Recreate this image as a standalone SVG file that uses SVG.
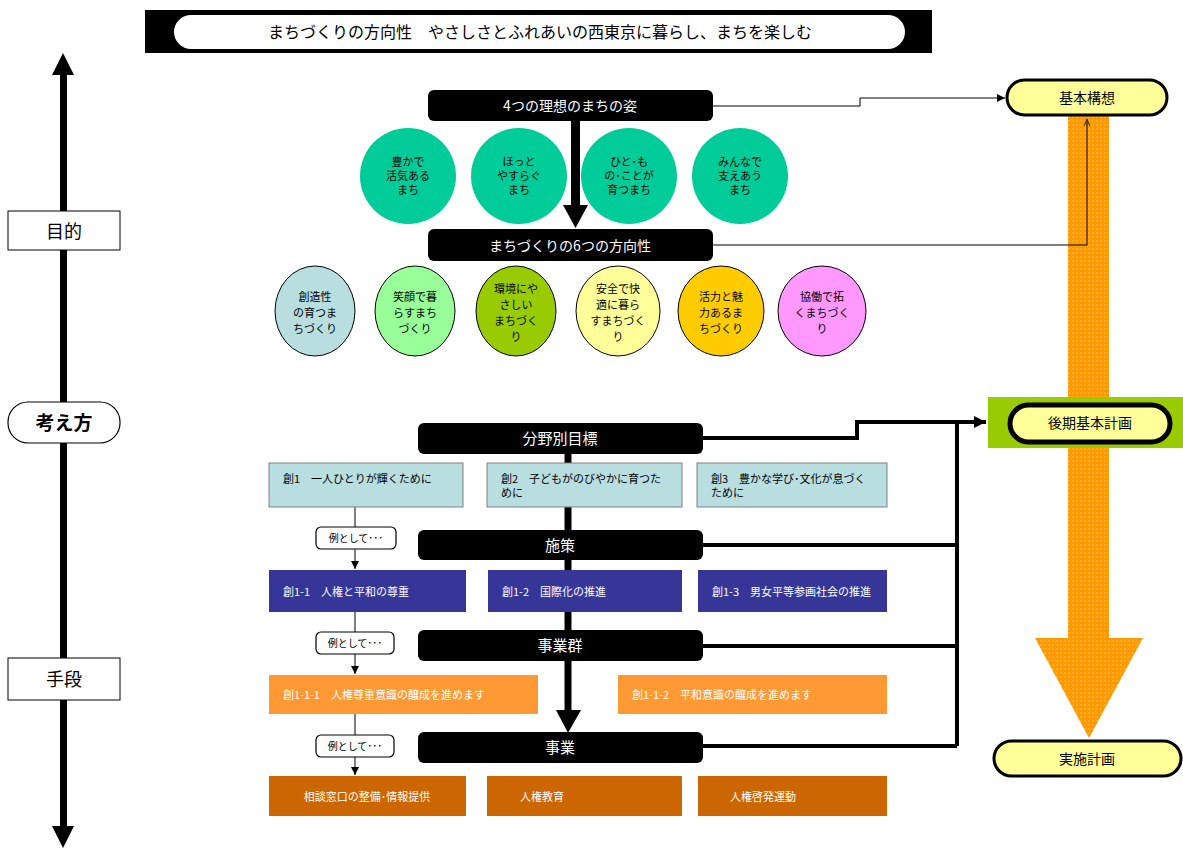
<svg xmlns="http://www.w3.org/2000/svg" width="1183" height="848" viewBox="0 0 1183 848">
<style>
text{font-family:"Noto Sans CJK JP","Noto Sans",sans-serif;}
.w{fill:#fff}
.hd{font-size:14px;fill:#fff;text-anchor:middle}
.hd2{font-size:15px;fill:#fff;text-anchor:middle}
.blk{fill:#000}
.ct{font-size:11px;fill:#000;text-anchor:middle}
.bt{font-size:11px;fill:#000}
.wt{font-size:11px;fill:#fff}
.pill{fill:#FFFF99;stroke:#000;stroke-width:3}
.lb{fill:#B8DEE0;stroke:#808080;stroke-width:1}
.db{fill:#363699}
.or{fill:#FF9933}
.dor{fill:#CC6600}
.ex{fill:#fff;stroke:#000;stroke-width:1.2}
.thin{fill:none;stroke:#000;stroke-width:1}
.thick{fill:none;stroke:#000;stroke-width:4}
</style>
<defs>
<marker id="ah" viewBox="0 0 10 10" refX="10" refY="5" markerWidth="8" markerHeight="8" markerUnits="userSpaceOnUse" orient="auto"><path d="M0,0 L10,5 L0,10 z" fill="#000"/></marker>
<marker id="ahT" viewBox="0 0 10 10" refX="10" refY="5" markerWidth="12" markerHeight="12" markerUnits="userSpaceOnUse" orient="auto"><path d="M0,0 L10,5 L0,10 z" fill="#000"/></marker>
<marker id="ahO" viewBox="0 0 10 10" refX="10" refY="5" markerWidth="7" markerHeight="7" markerUnits="userSpaceOnUse" orient="auto"><path d="M0,1 L10,5 L0,9" fill="none" stroke="#333" stroke-width="1.5"/></marker>
<pattern id="orp" width="4" height="4" patternUnits="userSpaceOnUse"><rect width="4" height="4" fill="#FF9900"/><rect width="2" height="2" fill="#FFAA2A"/></pattern>
</defs>

<!-- banner -->
<g id="banner">
<rect x="145" y="10" width="787" height="43" fill="#000"/>
<rect x="174" y="15" width="731" height="34" rx="17" fill="#fff"/>
<text x="540" y="38" font-size="16" text-anchor="middle" class="blk">まちづくりの方向性　やさしさとふれあいの西東京に暮らし、まちを楽しむ</text>
</g>

<!-- left axis -->
<g id="axis">
<rect x="60" y="72" width="7" height="756" fill="#000"/>
<polygon points="52,75 74,75 63,53" fill="#000"/>
<polygon points="52,826 74,826 63,848" fill="#000"/>
</g>
<g id="mokuteki">
<rect x="8" y="211" width="112" height="39" fill="#fff" stroke="#000" stroke-width="1"/>
<text x="64" y="238" font-size="18" text-anchor="middle" class="blk">目的</text>
</g>
<g id="kangaekata">
<rect x="8" y="402" width="112" height="41" rx="20" fill="#fff" stroke="#000" stroke-width="1.2"/>
<text x="64" y="430" font-size="19" font-weight="bold" text-anchor="middle" class="blk">考え方</text>
</g>
<g id="shudan">
<rect x="8" y="658" width="112" height="42" fill="#fff" stroke="#000" stroke-width="1"/>
<text x="64" y="686" font-size="18" text-anchor="middle" class="blk">手段</text>
</g>

<!-- orange big arrow -->
<g id="bigarrow">
<rect x="1068" y="112" width="41" height="528" fill="url(#orp)"/>
<polygon points="1035,638 1143,638 1089,738" fill="url(#orp)"/>
</g>

<!-- connectors -->
<g id="connectors">
<path class="thin" d="M713,106 H860 V98 H1005" marker-end="url(#ah)" stroke-width="1.3"/>
<path class="thin" d="M713,245 H1087 V119" stroke-width="1.3" marker-end="url(#ahO)"/>
<rect x="571" y="120" width="9" height="87" fill="#000"/>
<polygon points="563,205 588,205 575.5,228" fill="#000"/>
<rect x="564.5" y="453" width="7" height="260" fill="#000"/>
<polygon points="556,710 581,710 568,733" fill="#000"/>
<path class="thick" d="M703,438 H857 V422 H986" marker-end="url(#ahT)"/>
<path class="thick" d="M957,422 V746"/>
<path class="thick" d="M703,545 H957"/>
<path class="thick" d="M703,646 H957"/>
<path class="thick" d="M703,746 H957"/>
<path class="thin" d="M355,507 V527"/>
<path class="thin" d="M355,549 V569" marker-end="url(#ah)"/>
<path class="thin" d="M355,612 V632"/>
<path class="thin" d="M355,653 V674" marker-end="url(#ah)"/>
<path class="thin" d="M355,714 V735"/>
<path class="thin" d="M355,757 V775" marker-end="url(#ah)"/>
</g>

<!-- right nodes -->
<g id="kihonkoso">
<rect x="1007" y="80" width="160" height="35" rx="17.5" class="pill"/>
<text x="1087" y="103" font-size="14" text-anchor="middle" class="blk">基本構想</text>
</g>
<g id="koki">
<rect x="988" y="397" width="195" height="51" fill="#99CC00"/>
<rect x="1010" y="405" width="160" height="37" rx="18.5" fill="#FFFF99" stroke="#000" stroke-width="5"/>
<text x="1090" y="428" font-size="14" text-anchor="middle" class="blk">後期基本計画</text>
</g>
<g id="jisshi">
<rect x="994" y="741" width="187" height="35" rx="17.5" class="pill"/>
<text x="1087" y="764" font-size="14" text-anchor="middle" class="blk">実施計画</text>
</g>

<!-- ideal -->
<g id="ideal">
<rect x="428" y="90" width="285" height="31" rx="6" fill="#000"/>
<text x="570" y="111" class="hd">4つの理想のまちの姿</text>
</g>
<g id="ideal1"><circle cx="408" cy="176" r="48" fill="#00CC99"/>
<text class="ct" x="408" y="166">豊かで</text><text class="ct" x="408" y="180">活気ある</text><text class="ct" x="408" y="194">まち</text></g>
<g id="ideal2"><circle cx="519" cy="176" r="48" fill="#00CC99"/>
<text class="ct" x="519" y="166">ほっと</text><text class="ct" x="519" y="180">やすらぐ</text><text class="ct" x="519" y="194">まち</text></g>
<g id="ideal3"><circle cx="629" cy="176" r="48" fill="#00CC99"/>
<text class="ct" x="629" y="166">ひと･も</text><text class="ct" x="629" y="180">の･ことが</text><text class="ct" x="629" y="194">育つまち</text></g>
<g id="ideal4"><circle cx="740" cy="176" r="48" fill="#00CC99"/>
<text class="ct" x="740" y="166">みんなで</text><text class="ct" x="740" y="180">支えあう</text><text class="ct" x="740" y="194">まち</text></g>

<!-- directions -->
<g id="direction">
<rect x="428" y="229" width="285" height="32" rx="6" fill="#000"/>
<text x="570" y="251" class="hd">まちづくりの6つの方向性</text>
</g>
<g id="dir1"><ellipse cx="315" cy="311" rx="40" ry="45" fill="#B8DEE0" stroke="#000"/>
<text class="ct" x="315" y="301">創造性</text><text class="ct" x="315" y="317">の育つま</text><text class="ct" x="315" y="333">ちづくり</text></g>
<g id="dir2"><ellipse cx="415" cy="311" rx="40" ry="45" fill="#99FF99" stroke="#000"/>
<text class="ct" x="415" y="301">笑顔で暮</text><text class="ct" x="415" y="317">らすまち</text><text class="ct" x="415" y="333">づくり</text></g>
<g id="dir3"><ellipse cx="516" cy="311" rx="40" ry="45" fill="#99CC00" stroke="#000"/>
<text class="ct" x="516" y="293">環境にや</text><text class="ct" x="516" y="309">さしい</text><text class="ct" x="516" y="325">まちづく</text><text class="ct" x="516" y="341">り</text></g>
<g id="dir4"><ellipse cx="618" cy="311" rx="42" ry="45" fill="#FFFF99" stroke="#000"/>
<text class="ct" x="618" y="293">安全で快</text><text class="ct" x="618" y="309">適に暮ら</text><text class="ct" x="618" y="325">すまちづく</text><text class="ct" x="618" y="341">り</text></g>
<g id="dir5"><ellipse cx="721" cy="311" rx="43" ry="45" fill="#FFCC00" stroke="#000"/>
<text class="ct" x="721" y="301">活力と魅</text><text class="ct" x="721" y="317">力あるま</text><text class="ct" x="721" y="333">ちづくり</text></g>
<g id="dir6"><ellipse cx="822" cy="311" rx="44" ry="45" fill="#FF99FF" stroke="#000"/>
<text class="ct" x="822" y="301">協働で拓</text><text class="ct" x="822" y="317">くまちづく</text><text class="ct" x="822" y="333">り</text></g>

<!-- bunya -->
<g id="bunya">
<rect x="418" y="423" width="285" height="31" rx="6" fill="#000"/>
<text x="560" y="444" class="hd2">分野別目標</text>
</g>
<g id="so1"><rect class="lb" x="269" y="463" width="194" height="44"/><text class="bt" x="283" y="483">創1　一人ひとりが輝くために</text></g>
<g id="so2"><rect class="lb" x="487" y="463" width="195" height="44"/><text class="bt" x="501" y="483">創2　子どもがのびやかに育つた</text><text class="bt" x="501" y="497">めに</text></g>
<g id="so3"><rect class="lb" x="697" y="463" width="190" height="44"/><text class="bt" x="711" y="483">創3　豊かな学び･文化が息づく</text><text class="bt" x="711" y="497">ために</text></g>

<!-- shisaku -->
<g id="shisaku">
<rect x="418" y="530" width="285" height="30" rx="6" fill="#000"/>
<text x="560" y="551" class="hd2">施策</text>
</g>
<g id="ex1"><rect class="ex" x="316" y="527" width="80" height="22" rx="5"/><text x="356" y="542" font-size="10" text-anchor="middle" class="blk">例として･･･</text></g>
<g id="s11"><rect class="db" x="269" y="570" width="197" height="42"/><text class="wt" x="283" y="596">創1-1　人権と平和の尊重</text></g>
<g id="s12"><rect class="db" x="488" y="570" width="194" height="42"/><text class="wt" x="502" y="596">創1-2　国際化の推進</text></g>
<g id="s13"><rect class="db" x="698" y="570" width="189" height="42"/><text class="wt" x="712" y="596">創1-3　男女平等参画社会の推進</text></g>

<!-- jigyogun -->
<g id="jigyogun">
<rect x="418" y="630" width="285" height="31" rx="6" fill="#000"/>
<text x="560" y="651" class="hd2">事業群</text>
</g>
<g id="ex2"><rect class="ex" x="316" y="632" width="78" height="22" rx="5"/><text x="355" y="647" font-size="10" text-anchor="middle" class="blk">例として･･･</text></g>
<g id="g111"><rect class="or" x="269" y="675" width="269" height="39"/><text class="wt" x="283" y="699">創1-1-1　人権尊重意識の醸成を進めます</text></g>
<g id="g112"><rect class="or" x="618" y="675" width="269" height="39"/><text class="wt" x="632" y="699">創1-1-2　平和意識の醸成を進めます</text></g>

<!-- jigyo -->
<g id="jigyo">
<rect x="418" y="732" width="285" height="31" rx="6" fill="#000"/>
<text x="560" y="753" class="hd2">事業</text>
</g>
<g id="ex3"><rect class="ex" x="316" y="735" width="78" height="22" rx="5"/><text x="355" y="750" font-size="10" text-anchor="middle" class="blk">例として･･･</text></g>
<g id="j1"><rect class="dor" x="269" y="776" width="197" height="40"/><text class="wt" x="367" y="801" text-anchor="middle">相談窓口の整備･情報提供</text></g>
<g id="j2"><rect class="dor" x="487" y="776" width="195" height="40"/><text class="wt" x="520" y="801">人権教育</text></g>
<g id="j3"><rect class="dor" x="698" y="776" width="189" height="40"/><text class="wt" x="730" y="801">人権啓発運動</text></g>
</svg>
